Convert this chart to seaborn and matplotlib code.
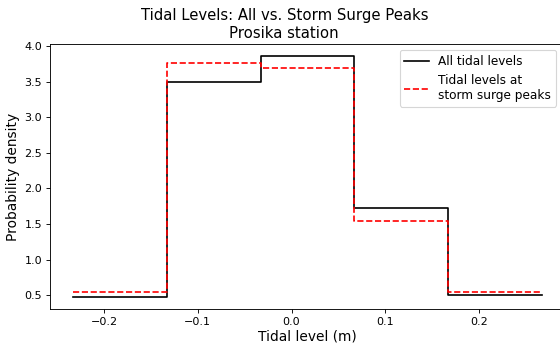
import numpy as np
import pandas as pd
import matplotlib
matplotlib.use("Agg")
import matplotlib.pyplot as plt
import seaborn as sns

# bin edges (m) and densities
bin_edges = [-0.233, -0.133, -0.033, 0.067, 0.167, 0.267]
dens_all = [0.476, 3.494, 3.852, 1.725, 0.500]
dens_peaks = [0.546, 3.757, 3.690, 1.542, 0.546]

# repeat last value so the step reaches the last edge
df_all = pd.DataFrame({"x": bin_edges, "y": dens_all + [dens_all[-1]]})
df_peaks = pd.DataFrame({"x": bin_edges, "y": dens_peaks + [dens_peaks[-1]]})

fig = plt.figure(figsize=(7, 4.375), dpi=80)
ax = fig.add_axes([0.089, 0.117, 0.92, 0.756])

sns.lineplot(data=df_all, x="x", y="y", ax=ax, color="black",
             drawstyle="steps-post", label="All tidal levels")
sns.lineplot(data=df_peaks, x="x", y="y", ax=ax, color="red", linestyle="--",
             drawstyle="steps-post", label="Tidal levels at\nstorm surge peaks")

ax.set_title("Tidal Levels: All vs. Storm Surge Peaks\nProsika station",
             fontsize=13.4, x=0.455)
ax.set_xlabel("Tidal level (m)", fontsize=12.4, labelpad=2)
ax.set_ylabel("Probability density", fontsize=12.4)
ax.tick_params(labelsize=10)
ax.legend(loc="upper right", fontsize=10.9, bbox_to_anchor=(556 / 560, 1 - 50 / 350),
          bbox_transform=fig.transFigure, borderaxespad=0)

fig.savefig("out.png", dpi=80)
